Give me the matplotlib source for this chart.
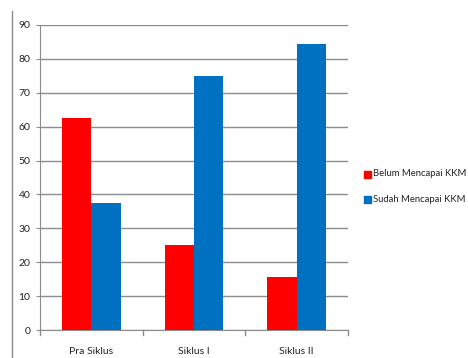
import matplotlib.pyplot as plt
import numpy as np
from matplotlib.lines import Line2D
from matplotlib.patches import Rectangle

categories = ["Pra Siklus", "Siklus I", "Siklus II"]
belum = [62.5, 25.0, 15.6]
sudah = [37.5, 75.0, 84.4]
series_names = ["Belum Mencapai KKM", "Sudah Mencapai KKM"]
yticks = list(range(0, 91, 10))

RED = "#ff0000"
BLUE = "#0070c0"
GRID = "#8c8c8c"

plt.rcParams['font.family'] = ['Lato', 'DejaVu Sans']

fig = plt.figure(figsize=(4.68, 3.58), dpi=100)
ax = fig.add_axes([40 / 468, 28 / 358, 308 / 468, 305 / 358])

x = np.arange(len(categories))
w = 0.285
ax.bar(x - w / 2, belum, width=w, color=RED, zorder=3)
ax.bar(x + w / 2, sudah, width=w, color=BLUE, zorder=3)

ax.set_xlim(-0.5, len(categories) - 0.5)
ax.set_ylim(0, 90)
ax.set_yticks(yticks)
ax.set_yticklabels([str(v) for v in yticks])
ax.yaxis.grid(True, color=GRID, linewidth=1.0, zorder=0)

# category labels sit between the boundary ticks
ax.set_xticks(x)
ax.set_xticklabels(categories)
ax.tick_params(axis='x', length=0, pad=12, labelsize=7.5, colors='#222222')
ax.tick_params(axis='y', length=3, pad=4, labelsize=7.5, colors='#222222', color=GRID)
for b in np.arange(-0.5, len(categories), 1.0):
    ax.plot([b, b], [0, -1.6], color=GRID, lw=1, clip_on=False, zorder=4)

for s in ['top', 'right']:
    ax.spines[s].set_visible(False)
ax.spines['left'].set_color(GRID)
ax.spines['bottom'].set_color(GRID)

# chart border line at the left
fig.add_artist(Line2D([12 / 468, 12 / 468], [0, 1 - 11 / 358], color=GRID, lw=1))

# legend to the right of the plot
for i, (name, col) in enumerate(zip(series_names, [RED, BLUE])):
    yc = 1 - (174 + 26 * i) / 358
    fig.add_artist(Rectangle((364 / 468, yc - 3.5 / 358), 7 / 468, 7 / 358,
                             color=col, transform=fig.transFigure))
    fig.text(373 / 468, yc, name, fontsize=6.8, va='center', ha='left', color='#222222')

fig.savefig("out.png", dpi=100)
